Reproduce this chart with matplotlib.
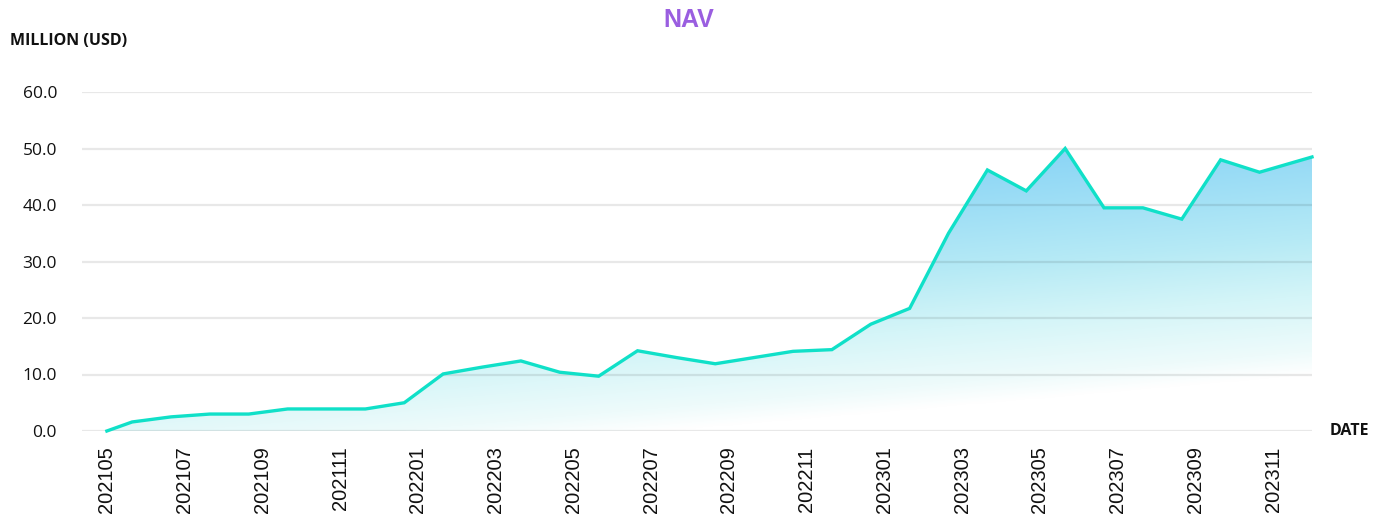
import numpy as np
import matplotlib
matplotlib.use("Agg")
import matplotlib.pyplot as plt

# monthly NAV in million USD
months = ['202105', '202106', '202107', '202108', '202109', '202110', '202111', '202112',
          '202201', '202202', '202203', '202204', '202205', '202206', '202207', '202208',
          '202209', '202210', '202211', '202212', '202301', '202302', '202303', '202304',
          '202305', '202306', '202307', '202308', '202309', '202310', '202311', '202312']
nav = [0.0, 1.6, 2.5, 3.0, 3.0, 3.9, 3.9, 3.9,
       5.0, 10.1, 11.3, 12.4, 10.4, 9.7, 14.2, 13.0,
       11.9, 13.0, 14.1, 14.4, 18.9, 21.7, 35.0, 46.2,
       42.5, 50.0, 39.5, 39.5, 37.5, 48.0, 45.8, 48.5]
yticks = [0, 10, 20, 30, 40, 50, 60]

line_color = '#10e0c8'

fig = plt.figure(figsize=(13.84, 5.25), dpi=100)
fig.patch.set_facecolor('white')
ax = fig.add_axes([82 / 1384, 94 / 525, 1230 / 1384, 339 / 525])

# points sit a bit after the month tick, first and last pinned to the axis ends
x = np.arange(len(nav)) - 0.35
x[0] = 0
x[-1] = len(nav) - 1
xmin, xmax = -0.64, len(nav) - 1

ax.set_xlim(xmin, xmax)
ax.set_ylim(0, 60)

# gradient fill under the line
xs = np.linspace(xmin, xmax, 500)
ys = np.linspace(0, 60, 400)
X, Y = np.meshgrid(xs, ys)
g = Y + 0.6 * (xmax - X)
stops = [0, 10, 14, 24, 34, 55, 80]
r = [255, 255, 238, 212, 182, 135, 128]
gg = [255, 255, 251, 245, 234, 211, 206]
b = [255, 255, 251, 248, 245, 246, 246]
img = np.dstack([np.interp(g, stops, r), np.interp(g, stops, gg), np.interp(g, stops, b)]) / 255
im = ax.imshow(img, extent=[xmin, xmax, 0, 60], origin='lower', aspect='auto', zorder=1)
poly = ax.fill_between(x, nav, 0, facecolor='none', edgecolor='none')
im.set_clip_path(poly.get_paths()[0], ax.transData)

ax.plot(x, nav, color=line_color, linewidth=2.4, zorder=3, clip_on=False, solid_joinstyle='miter')

ax.set_axisbelow('line')
ax.grid(axis='y', color='black', alpha=0.09, linewidth=1.6)
for s in ax.spines.values():
    s.set_visible(False)

ax.set_yticks(yticks)
ax.set_yticklabels([f'{v:.1f}' for v in yticks], fontsize=12.5, fontfamily='Open Sans', color='#111111')
ax.set_xticks(np.arange(0, len(months), 2))
ax.set_xticklabels(months[::2], rotation=90, fontsize=14.5, fontfamily='Liberation Sans', color='#111111')
ax.tick_params(axis='both', length=0)
ax.tick_params(axis='x', pad=11)
ax.tick_params(axis='y', pad=18)

fig.text(689 / 1384, 1 - 20 / 525, 'NAV', ha='center', va='center', fontsize=18,
         fontweight='bold', fontfamily='Liberation Sans', color='#9a5ee0')
fig.text(10 / 1384, 1 - 41 / 525, 'MILLION (USD)', ha='left', va='center', fontsize=11.5,
         fontweight='bold', fontfamily='Open Sans', color='#111111')
fig.text(1330 / 1384, 1 - 431 / 525, 'DATE', ha='left', va='center', fontsize=11.5,
         fontweight='bold', fontfamily='Open Sans', color='#111111')

fig.savefig('out.png', dpi=100, facecolor='white')
